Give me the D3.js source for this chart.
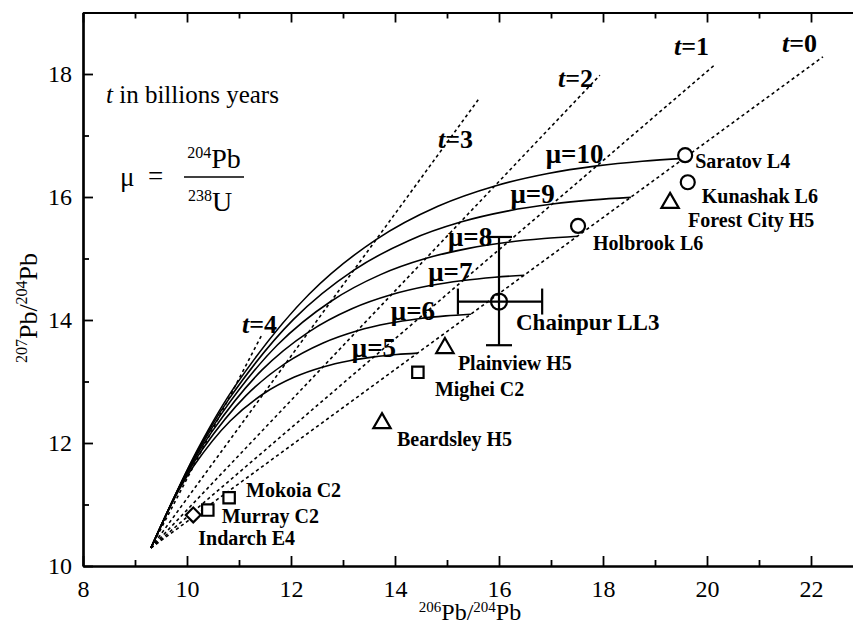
<!DOCTYPE html>
<html><head><meta charset="utf-8">
<script src="https://cdn.jsdelivr.net/npm/d3@7"></script>
<style>
html,body{margin:0;padding:0;background:#fff;}
svg{display:block;font-family:"Liberation Serif","Times New Roman",serif;}
</style></head>
<body>
<svg id="chart" width="853" height="626"></svg>
<script>
// ---------------- DATA ----------------
const xTicks = [8, 10, 12, 14, 16, 18, 20, 22];
const yTicks = [10, 12, 14, 16, 18];
const xMinorTicks = [9, 11, 13, 15, 17, 19, 21, 23];
const yMinorTicks = [11, 13, 15, 17, 19];

const muValues = [5, 6, 7, 8, 9, 10];
const primordial = [9.307, 10.294];
// growth curves (x = 206Pb/204Pb, y = 207Pb/204Pb)
const mu5Curve  = [[9.307,10.294],[9.767,11.113],[10.135,11.634],[10.830,12.358],[11.471,12.801],[12.066,13.072],[12.616,13.237],[13.125,13.338],[13.596,13.400],[14.031,13.438],[14.435,13.461]];
const mu6Curve  = [[9.307,10.294],[9.859,11.277],[10.301,11.902],[11.134,12.771],[11.904,13.303],[12.618,13.627],[13.278,13.826],[13.888,13.947],[14.453,14.021],[14.976,14.067],[15.460,14.094]];
const mu7Curve  = [[9.307,10.294],[9.951,11.441],[10.467,12.169],[11.439,13.184],[12.337,13.804],[13.170,14.183],[13.939,14.414],[14.652,14.556],[15.311,14.642],[15.921,14.695],[16.486,14.728]];
const mu8Curve  = [[9.307,10.294],[10.044,11.605],[10.632,12.437],[11.743,13.597],[12.770,14.305],[13.721,14.738],[14.601,15.003],[15.415,15.165],[16.169,15.264],[16.866,15.324],[17.511,15.361]];
const mu9Curve  = [[9.307,10.294],[10.136,11.769],[10.798,12.705],[12.048,14.010],[13.203,14.807],[14.273,15.294],[15.263,15.592],[16.179,15.774],[17.026,15.885],[17.811,15.953],[18.537,15.994]];
const mu10Curve = [[9.307,10.294],[10.228,11.933],[10.964,12.973],[12.352,14.423],[13.636,15.308],[14.825,15.850],[15.925,16.180],[16.942,16.383],[17.884,16.506],[18.756,16.582],[19.562,16.628]];
const muCurves = [mu5Curve, mu6Curve, mu7Curve, mu8Curve, mu9Curve, mu10Curve];

// isochrons (dotted), from the primordial point to their upper end
const isoAges = [0, 1, 2, 3, 4];
const isoEndX = [22.23, 20.15, 17.94, 15.60, 11.44];
const isoEndY = [18.28, 18.15, 17.98, 17.58, 13.76];

// meteorites
const sampleNames  = ["Saratov L4","Kunashak L6","Forest City H5","Holbrook L6","Chainpur LL3","Plainview H5","Mighei C2","Beardsley H5","Mokoia C2","Murray C2","Indarch E4"];
const sampleX      = [19.58, 19.63, 19.29, 17.52, 16.00, 14.96, 14.44, 13.75, 10.81, 10.40, 10.12];
const sampleY      = [16.68, 16.24, 15.92, 15.53, 14.30, 13.56, 13.15, 12.34, 11.11, 10.91, 10.83];
const sampleType   = ["circle","circle","triangle","circle","circle","triangle","square","triangle","square","square","diamond"];
// Chainpur error bars
const chainpurXErr = [15.21, 16.83];
const chainpurYErr = [13.59, 15.35];

// ---------------- LAYOUT ----------------
const W = 853, H = 626;
const x = d3.scaleLinear().domain([8, 23]).range([83, 863]);
const y = d3.scaleLinear().domain([10, 19]).range([566, 12.5]);
const svg = d3.select("#chart");

const labelOffset = [[10,13],[14,21],[18,25],[15,24],[17,28],[13,23],[17,24],[15,24],[17,-1],[14,13],[5,30]];
const muLabelPos = [[13.17,13.40],[13.92,14.00],[14.64,14.63],[15.02,15.20],[16.22,15.90],[16.90,16.55]];
const tLabelPos = [[782,52],[674,55],[558,87],[438,148],[242,333]];

// clip to plot area
svg.append("defs").append("clipPath").attr("id","plot")
  .append("rect").attr("x",83).attr("y",12.5).attr("width",W-83).attr("height",566-12.5);

const g = svg.append("g").attr("clip-path","url(#plot)");

// isochrons
const line = d3.line().x(d => x(d[0])).y(d => y(d[1]));
g.selectAll("path.iso").data(isoAges).join("path")
  .attr("class","iso")
  .attr("d", (d,i) => line([primordial, [isoEndX[i], isoEndY[i]]]))
  .attr("fill","none").attr("stroke","#000").attr("stroke-width",1.6)
  .attr("stroke-dasharray","3.2,3");

// growth curves
const curveLine = d3.line().x(d => x(d[0])).y(d => y(d[1])).curve(d3.curveCatmullRom.alpha(0.5));
g.selectAll("path.mu").data(muCurves).join("path")
  .attr("class","mu")
  .attr("d", d => curveLine(d))
  .attr("fill","none").attr("stroke","#000").attr("stroke-width",1.6);

// axes
function styleAxis(sel){
  sel.select(".domain").attr("stroke","#000").attr("stroke-width",2.2);
  sel.selectAll(".tick line").attr("stroke","#000").attr("stroke-width",1.8);
  sel.selectAll("text").attr("font-family","Liberation Serif").attr("font-size",24).attr("fill","#000");
}
const xAxis = svg.append("g").attr("transform","translate(0,566)")
  .call(d3.axisBottom(x).tickValues(xTicks).tickSizeInner(-10).tickSizeOuter(0).tickPadding(14).tickFormat(d3.format("d")));
styleAxis(xAxis);
const xAxisMinor = svg.append("g").attr("transform","translate(0,566)")
  .call(d3.axisBottom(x).tickValues(xMinorTicks).tickSizeInner(-6).tickSizeOuter(0).tickFormat(""));
styleAxis(xAxisMinor);
const xTop = svg.append("g").attr("transform","translate(0,12.5)")
  .call(d3.axisTop(x).tickValues(xTicks).tickSizeInner(-10).tickSizeOuter(0).tickFormat(""));
styleAxis(xTop);
const xTopMinor = svg.append("g").attr("transform","translate(0,12.5)")
  .call(d3.axisTop(x).tickValues(xMinorTicks).tickSizeInner(-6).tickSizeOuter(0).tickFormat(""));
styleAxis(xTopMinor);
const yAxis = svg.append("g").attr("transform","translate(83,0)")
  .call(d3.axisLeft(y).tickValues(yTicks).tickSizeInner(-10).tickSizeOuter(0).tickPadding(11).tickFormat(d3.format("d")));
styleAxis(yAxis);
const yAxisMinor = svg.append("g").attr("transform","translate(83,0)")
  .call(d3.axisLeft(y).tickValues(yMinorTicks).tickSizeInner(-6).tickSizeOuter(0).tickFormat(""));
styleAxis(yAxisMinor);

// axis titles
const xt = svg.append("text").attr("x",470).attr("y",620).attr("text-anchor","middle")
  .attr("font-size",24).attr("fill","#000");
xt.append("tspan").attr("font-size",15).attr("dy",-8).text("206");
xt.append("tspan").attr("dy",8).text("Pb/");
xt.append("tspan").attr("font-size",15).attr("dy",-8).text("204");
xt.append("tspan").attr("dy",8).text("Pb");

const yt = svg.append("text").attr("transform","translate(37,308) rotate(-90)").attr("text-anchor","middle")
  .attr("font-size",26).attr("fill","#000");
yt.append("tspan").attr("font-size",16).attr("dy",-10).text("207");
yt.append("tspan").attr("dy",10).text("Pb/");
yt.append("tspan").attr("font-size",16).attr("dy",-10).text("204");
yt.append("tspan").attr("dy",10).text("Pb");

// legend text
const lg = svg.append("text").attr("x",106).attr("y",103).attr("font-size",25).attr("fill","#000");
lg.append("tspan").attr("font-style","italic").text("t");
lg.append("tspan").text(" in billions years");

svg.append("text").attr("x",120).attr("y",186).attr("font-size",27).text("μ");
svg.append("text").attr("x",148).attr("y",185).attr("font-size",27).text("=");
const num = svg.append("text").attr("x",214).attr("y",168).attr("text-anchor","middle").attr("font-size",28);
num.append("tspan").attr("font-size",16).attr("dy",-10).text("204");
num.append("tspan").attr("dy",10).text("Pb");
svg.append("line").attr("x1",184).attr("x2",244).attr("y1",177).attr("y2",177).attr("stroke","#000").attr("stroke-width",1.5);
const den = svg.append("text").attr("x",210).attr("y",211).attr("text-anchor","middle").attr("font-size",28);
den.append("tspan").attr("font-size",16).attr("dy",-10).text("238");
den.append("tspan").attr("dy",10).text("U");

// mu labels
svg.selectAll("text.mulab").data(muValues).join("text").attr("class","mulab")
  .attr("x",(d,i)=>x(muLabelPos[i][0])).attr("y",(d,i)=>y(muLabelPos[i][1]))
  .attr("font-size",27).attr("font-weight","bold").attr("fill","#000")
  .text(d => "μ=" + d);

// t labels
svg.selectAll("text.tlab").data(isoAges).join("text").attr("class","tlab")
  .attr("x",(d,i)=>tLabelPos[i][0]).attr("y",(d,i)=>tLabelPos[i][1])
  .attr("font-size",26).attr("font-weight","bold").attr("fill","#000")
  .each(function(d){
    const t = d3.select(this);
    t.append("tspan").attr("font-style","italic").text("t");
    t.append("tspan").text("=" + d);
  });

// chainpur error bars
const ci = sampleNames.indexOf("Chainpur LL3");
const cx = x(sampleX[ci]), cy = y(sampleY[ci]);
const eb = svg.append("g").attr("stroke","#000").attr("stroke-width",2.2);
eb.append("line").attr("x1",x(chainpurXErr[0])).attr("x2",x(chainpurXErr[1])).attr("y1",cy).attr("y2",cy);
eb.append("line").attr("x1",cx).attr("x2",cx).attr("y1",y(chainpurYErr[0])).attr("y2",y(chainpurYErr[1]));
[chainpurXErr[0],chainpurXErr[1]].forEach(v=>eb.append("line").attr("x1",x(v)).attr("x2",x(v)).attr("y1",cy-13).attr("y2",cy+13));
[chainpurYErr[0],chainpurYErr[1]].forEach(v=>eb.append("line").attr("x1",cx-13).attr("x2",cx+13).attr("y1",y(v)).attr("y2",y(v)));

// markers
const symMap = {
  circle: null,
  triangle: d3.symbol().type(d3.symbolTriangle).size(130)(),
  square: d3.symbol().type(d3.symbolSquare).size(130)(),
  diamond: d3.symbol().type(d3.symbolSquare).size(110)()
};
sampleNames.forEach((name,i)=>{
  const px = x(sampleX[i]), py = y(sampleY[i]);
  if (sampleType[i] === "circle") {
    svg.append("circle").attr("cx",px).attr("cy",py).attr("r",i===ci?8:7)
      .attr("fill", i===ci ? "none" : "#fff").attr("stroke","#000").attr("stroke-width",2.2);
  } else {
    svg.append("path").attr("d",symMap[sampleType[i]])
      .attr("transform",`translate(${px},${py + (sampleType[i]==="triangle"?1:0)})` + (sampleType[i]==="diamond"?" rotate(45)":""))
      .attr("fill","#fff").attr("stroke","#000").attr("stroke-width",2.2);
  }
  svg.append("text").attr("x",px+labelOffset[i][0]).attr("y",py+labelOffset[i][1])
    .attr("font-size", i===ci?23:20).attr("font-weight","bold").attr("fill","#000")
    .text(name);
});
</script>
</body></html>
